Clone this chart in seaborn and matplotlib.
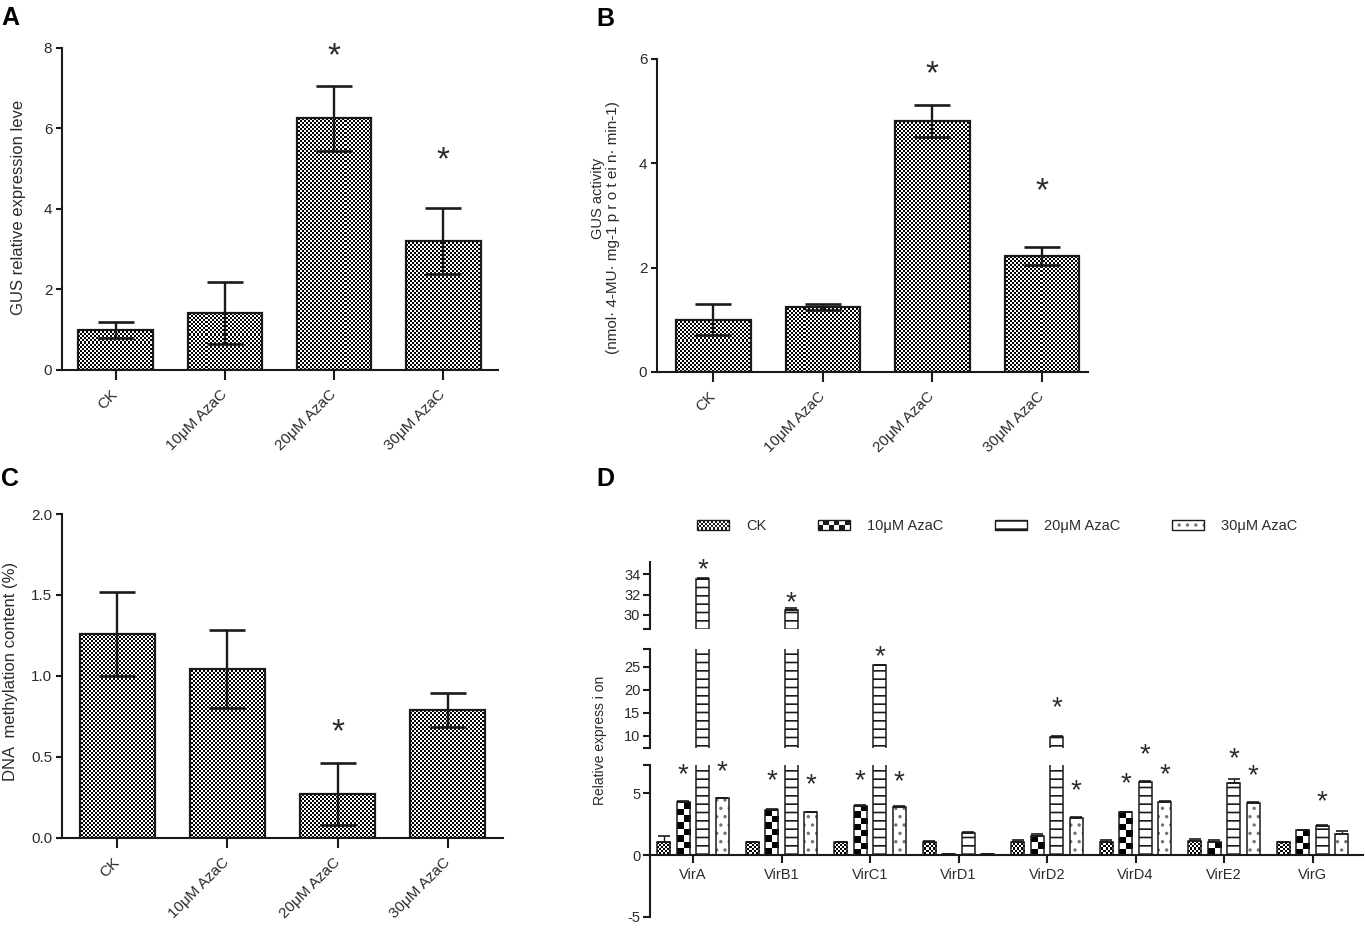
import numpy as np
import pandas as pd
import matplotlib
matplotlib.use("Agg")
import matplotlib.pyplot as plt
import seaborn as sns
from matplotlib.patches import Rectangle, Patch
from matplotlib.legend_handler import HandlerBase

sns.set_theme(style="ticks")
plt.rcParams["font.family"] = ["Liberation Sans", "DejaVu Sans"]
plt.rcParams["hatch.linewidth"] = 1.2

# ---------------- data ----------------
treatments = ["CK", "10μM AzaC", "20μM AzaC", "30μM AzaC"]

gus_expr = [1.0, 1.42, 6.25, 3.2]
gus_expr_err = [0.2, 0.77, 0.8, 0.82]
gus_expr_star = [None, None, 8.03, 5.45]

gus_act = [1.0, 1.24, 4.81, 2.22]
gus_act_err = [0.3, 0.06, 0.31, 0.17]
gus_act_star = [None, None, 5.88, 3.65]

methyl = [1.26, 1.043, 0.27, 0.787]
methyl_err = [0.26, 0.24, 0.19, 0.105]
methyl_star = [None, None, 0.707, None]

genes = ["VirA", "VirB1", "VirC1", "VirD1", "VirD2", "VirD4", "VirE2", "VirG"]
vir_ck = [1.02, 1.02, 1.02, 1.05, 1.05, 1.05, 1.13, 1.02]
vir_ck_err = [0.48, 0.04, 0.04, 0.1, 0.18, 0.18, 0.17, 0.04]
vir_10 = [4.27, 3.63, 3.98, 0.05, 1.5, 3.44, 1.05, 1.99]
vir_10_err = [0.06, 0.06, 0.06, 0.02, 0.18, 0.06, 0.15, 0.04]
vir_20 = [33.5, 30.5, 25.3, 1.77, 9.75, 5.91, 5.78, 2.34]
vir_20_err = [0.1, 0.15, 0.1, 0.06, 0.3, 0.08, 0.35, 0.06]
vir_30 = [4.57, 3.44, 3.9, 0.08, 3.0, 4.30, 4.22, 1.72]
vir_30_err = [0.06, 0.04, 0.04, 0.02, 0.08, 0.08, 0.05, 0.22]

vir_star_ck = [None] * 8
vir_star_10 = [7.07, 6.59, 6.64, None, None, 6.37, None, None]
vir_star_20 = [35.2, 32.0, 28.8, None, 17.8, 8.73, 8.41, 4.92]
vir_star_30 = [7.34, 6.32, 6.53, None, 5.78, 7.12, 7.04, None]

# ---------------- helpers ----------------
W, H = 1365, 936
fig = plt.figure(figsize=(W / 100, H / 100), dpi=100)
INK = "#1a1a1a"
TXT = "#2b2b2b"


def rect_px(left, right, top, bottom):
    return [left / W, 1 - bottom / H, (right - left) / W, (bottom - top) / H]


def checker_fill(ax, patch, cell_px, ncol=None):
    h = patch.get_height()
    if h <= 0:
        return
    ext = patch.get_window_extent()
    if ncol:
        x, y, w = patch.get_x(), patch.get_y(), patch.get_width()
        nc = ncol
        nr = max(1, int(round(ext.height / cell_px)))
        extent = (x, x + w, y, y + h)
    else:
        x0, y0 = np.floor(ext.x0), np.floor(ext.y0)
        nc = int(np.ceil((ext.x1 - x0) / cell_px))
        nr = int(np.ceil((ext.y1 - y0) / cell_px))
        x1, y1 = x0 + nc * cell_px, y0 + nr * cell_px
        inv = ax.transData.inverted()
        (dx0, dy0), (dx1, dy1) = inv.transform([(x0, y0), (x1, y1)])
        extent = (dx0, dx1, dy0, dy1)
    arr = (np.add.outer(np.arange(nr), np.arange(nc)) % 2).astype(float)
    im = ax.imshow(arr, extent=extent, origin="lower", cmap="gray",
                   vmin=0, vmax=1, interpolation="nearest", aspect="auto", zorder=0.5)
    im.set_clip_path(patch)
    patch.set_facecolor("none")
    patch.set_zorder(1)


def raise_errorbar(eb, z=6):
    for part in list(eb.lines[1]) + list(eb.lines[2]):
        part.set_zorder(z)


def style_axis(ax):
    for s in ["top", "right"]:
        ax.spines[s].set_visible(False)
    for s in ["left", "bottom"]:
        ax.spines[s].set_linewidth(1.5)
        ax.spines[s].set_color(INK)
    ax.tick_params(axis="both", colors=INK, labelcolor=TXT, width=1.5)
    ax.set_xlabel("")
    ax.set_ylabel("")


def star(ax, x, y, fs):
    ax.annotate("*", (x, y), xytext=(0, -0.55 * fs), textcoords="offset points",
                ha="center", va="baseline", fontsize=fs, color=TXT, annotation_clip=False)


def simple_panel(rect, values, errs, stars, ylim, yticks, yticklabels, xlim):
    ax = fig.add_axes(rect)
    df = pd.DataFrame({"group": treatments, "value": values})
    sns.barplot(data=df, x="group", y="value", order=treatments, color="white",
                edgecolor=INK, linewidth=1.6, width=0.68, errorbar=None,
                saturation=1, ax=ax)
    ax.set_xlim(*xlim)
    ax.set_ylim(*ylim)
    style_axis(ax)
    bars = list(ax.containers[0])
    xs = [p.get_x() + p.get_width() / 2 for p in bars]
    for p in bars:
        checker_fill(ax, p, 2)
    eb = ax.errorbar(xs, values, yerr=errs, fmt="none", ecolor=INK, elinewidth=1.7,
                     capsize=13, capthick=1.9, zorder=6)
    raise_errorbar(eb)
    for x, s in zip(xs, stars):
        if s is not None:
            star(ax, x, s, 24)
    ax.set_yticks(yticks, yticklabels, fontsize=11)
    ax.set_xticks(range(len(treatments)), treatments, rotation=45, ha="right",
                  va="center", rotation_mode="anchor", fontsize=11)
    ax.tick_params(axis="x", length=7, pad=9)
    ax.tick_params(axis="y", length=4, pad=3)
    ax.set_xlim(*xlim)
    ax.set_ylim(*ylim)
    return ax


# ---------------- Panels A, B, C ----------------
simple_panel(rect_px(62, 498, 48, 370), gus_expr, gus_expr_err, gus_expr_star,
             (0, 8), [0, 2, 4, 6, 8], ["0", "2", "4", "6", "8"], (-0.49, 3.5))
simple_panel(rect_px(657, 1088, 59, 372), gus_act, gus_act_err, gus_act_star,
             (0, 6), [0, 2, 4, 6], ["0", "2", "4", "6"], (-0.514, 3.42))
simple_panel(rect_px(62, 503, 514, 837.7), methyl, methyl_err, methyl_star,
             (0, 2.0), [0, 0.5, 1.0, 1.5, 2.0], ["0.0", "0.5", "1.0", "1.5", "2.0"],
             (-0.5, 3.5))

fig.text(19 / W, 1 - 207 / H, "GUS relative expression leve", rotation=90,
         ha="center", va="center", fontsize=12, color=TXT)
fig.text(598 / W, 1 - 198 / H, "GUS activity", rotation=90,
         ha="center", va="center", fontsize=10.5, color=TXT)
fig.text(613 / W, 1 - 228 / H, "(nmol· 4-MU· mg-1 p r o t ei n· min-1)", rotation=90,
         ha="center", va="center", fontsize=11, color=TXT)
fig.text(11 / W, 1 - 671 / H, "DNA  methylation content (%)", rotation=90,
         ha="center", va="center", fontsize=12, color=TXT)

# ---------------- Panel D ----------------
dfD = pd.DataFrame({
    "gene": genes * 4,
    "treatment": sum([[t] * len(genes) for t in treatments], []),
    "value": vir_ck + vir_10 + vir_20 + vir_30,
})
vals = [vir_ck, vir_10, vir_20, vir_30]
errs = [vir_ck_err, vir_10_err, vir_20_err, vir_30_err]
stars = [vir_star_ck, vir_star_10, vir_star_20, vir_star_30]

xlimD = (-0.486, 7.57)
seg_bot = (-5, 7.26)
seg_mid = (7.48, 28.78)
seg_top = (28.62, 35.24)

axB = fig.add_axes(rect_px(650, 1363, 765, 917))
axM = fig.add_axes(rect_px(650, 1363, 649.3, 747.5))
axT = fig.add_axes(rect_px(650, 1363, 561.7, 629))

DOTGRAY = (0.45, 0.45, 0.45, 1.0)
bar_sets = {}
for ax, lim in [(axB, seg_bot), (axM, seg_mid), (axT, seg_top)]:
    sns.barplot(data=dfD, x="gene", y="value", hue="treatment", order=genes,
                hue_order=treatments, palette={t: "white" for t in treatments},
                edgecolor=INK, linewidth=1.1, width=0.88, gap=0.32, errorbar=None,
                legend=False, saturation=1, ax=ax)
    ax.set_xlim(*xlimD)
    ax.set_ylim(*lim)
    style_axis(ax)
    conts = [list(c) for c in ax.containers[:4]]
    bar_sets[ax] = conts
    for k, cont in enumerate(conts):
        xs = [p.get_x() + p.get_width() / 2 for p in cont]
        if k == 2:
            for p in cont:
                p.set_hatch("--")
        elif k == 3:
            for p in cont:
                p.set_hatch("..")
                p._hatch_color = DOTGRAY
        elif ax is axB and k == 0:
            for p in cont:
                checker_fill(ax, p, 2)
        elif ax is axB and k == 1:
            for p in cont:
                checker_fill(ax, p, 6.5, ncol=2)
        eb = ax.errorbar(xs, vals[k], yerr=[np.zeros(len(genes)), errs[k]], fmt="none",
                         ecolor=INK, elinewidth=1.0, capsize=4.5, capthick=1.2, zorder=6)
        raise_errorbar(eb)
    ax.set_xlim(*xlimD)
    ax.set_ylim(*lim)

# stars placed on the segment holding the bar top
for k, cont in enumerate(bar_sets[axB]):
    for p, v, s in zip(cont, vals[k], stars[k]):
        if s is None:
            continue
        x = p.get_x() + p.get_width() / 2
        if v > seg_top[0]:
            star(axT, x, s, 20)
        elif v > seg_mid[0]:
            star(axM, x, s, 20)
        else:
            star(axB, x, s, 20)

# bottom segment axis
axB.spines["bottom"].set_position(("data", 0))
axB.set_yticks([-5, 0, 5, seg_bot[1]], ["-5", "0", "5", ""], fontsize=10.5)
axB.set_xticks(range(len(genes)), genes, fontsize=10.5)
axB.tick_params(axis="x", length=6, pad=3)
axB.tick_params(axis="y", length=5, pad=2)

for ax, ticks, labels in [(axM, [seg_mid[0], 10, 15, 20, 25, seg_mid[1]],
                           ["", "10", "15", "20", "25", ""]),
                          (axT, [seg_top[0], 30, 32, 34], ["", "30", "32", "34"])]:
    ax.spines["bottom"].set_visible(False)
    ax.tick_params(axis="x", bottom=False, labelbottom=False)
    ax.set_yticks(ticks, labels, fontsize=10.5)
    ax.tick_params(axis="y", length=5, pad=2)
    ax.set_ylim(*(seg_mid if ax is axM else seg_top))
    ax.patch.set_alpha(0)

fig.text(600 / W, 1 - 740 / H, "Relative express i on", rotation=90,
         ha="center", va="center", fontsize=10, color=TXT)


# legend for D
class CheckerHandler(HandlerBase):
    def __init__(self, ncols, nrows):
        super().__init__()
        self.ncols, self.nrows = ncols, nrows

    def create_artists(self, legend, orig_handle, xdescent, ydescent, width, height,
                       fontsize, trans):
        arts = []
        cw, ch = width / self.ncols, height / self.nrows
        for i in range(self.nrows):
            for j in range(self.ncols):
                if (i + j) % 2 == 0:
                    arts.append(Rectangle((-xdescent + j * cw, -ydescent + i * ch), cw, ch,
                                          facecolor=INK, edgecolor="none", transform=trans))
        arts.append(Rectangle((-xdescent, -ydescent), width, height, facecolor="none",
                              edgecolor=INK, linewidth=1.0, transform=trans))
        return arts


h_ck = Patch(facecolor="white", edgecolor=INK, label=treatments[0])
h_10 = Patch(facecolor="white", edgecolor=INK, label=treatments[1])
h_20 = Patch(facecolor="white", edgecolor=INK, hatch="--", linewidth=1.0, label=treatments[2])
h_30 = Patch(facecolor="white", edgecolor=INK, hatch="..", linewidth=1.0, label=treatments[3])
h_30._hatch_color = DOTGRAY
fig.legend(handles=[h_ck, h_10, h_20, h_30], labels=treatments, loc="center left",
           bbox_to_anchor=(697 / W, 1 - 526 / H), ncol=4, frameon=False,
           fontsize=10.5, handlelength=2.2, handleheight=0.62, handletextpad=1.2,
           columnspacing=3.5, borderpad=0, borderaxespad=0,
           handler_map={h_ck: CheckerHandler(16, 4), h_10: CheckerHandler(6, 2)},
           labelcolor=TXT)

# panel letters
for ch, (px, py) in zip("ABCD", [(1, 6), (596, 7), (1, 467), (596, 467)]):
    fig.text(px / W, 1 - py / H, ch, ha="left", va="top", fontsize=18,
             fontweight="bold", color="black")

fig.savefig("out.png", dpi=100, facecolor="white")
